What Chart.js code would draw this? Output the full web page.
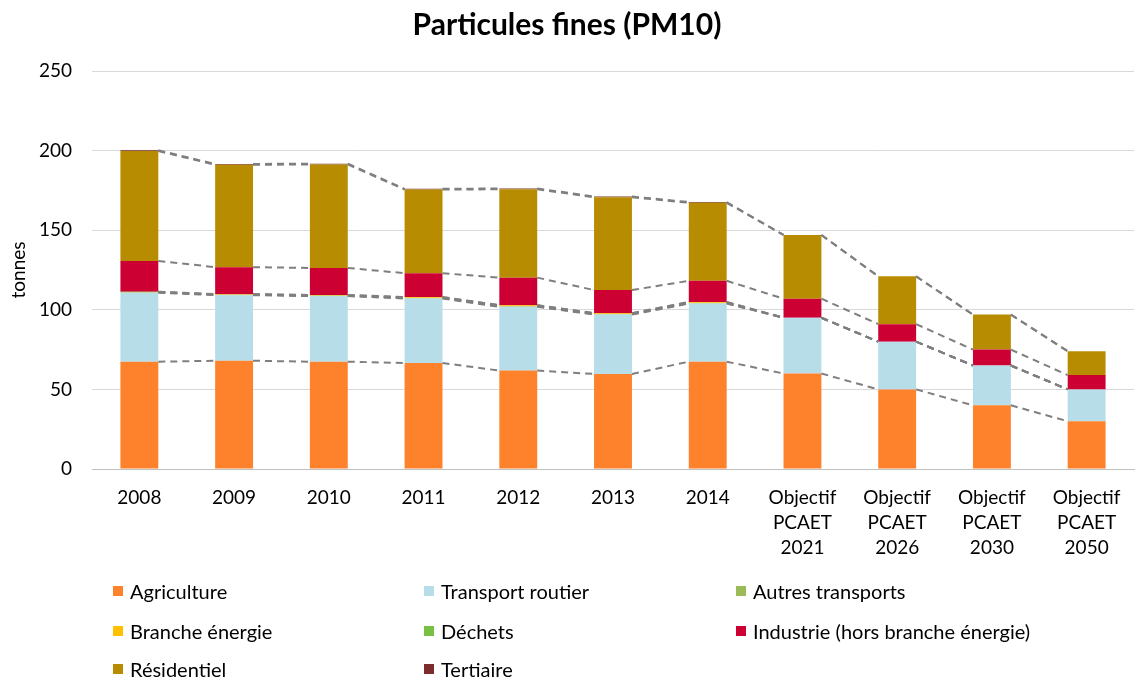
<!DOCTYPE html>
<html>
<head>
<meta charset="utf-8">
<script src="https://cdn.jsdelivr.net/npm/chart.js@4/dist/chart.umd.min.js"></script>
<style>
  html, body { margin: 0; padding: 0; background: #fff; }
  #wrap { position: relative; width: 1140px; height: 678px; }
  #c { position: absolute; left: 0; top: 0; }
  #legend { position: absolute; left: 0; top: 0; width: 1140px; height: 678px; pointer-events: none;
            font-family: Lato, "Open Sans", sans-serif; font-size: 20px; color: #000; }
  .li { position: absolute; display: flex; align-items: center; white-space: nowrap; }
  .sw { width: 10px; height: 10px; margin-right: 7px; }
</style>
</head>
<body>
<div id="wrap">
  <canvas id="c" width="1140" height="678"></canvas>
  <div id="legend"></div>
</div>
<script>
const categories = ['2008', '2009', '2010', '2011', '2012', '2013', '2014',
  ['Objectif', 'PCAET', '2021'], ['Objectif', 'PCAET', '2026'],
  ['Objectif', 'PCAET', '2030'], ['Objectif', 'PCAET', '2050']];

const agriculture = [67.4, 68.0, 67.4, 66.6, 61.8, 59.7, 67.4, 60, 50, 40, 30];
const transportRoutier = [43.3, 41.2, 41.2, 40.5, 40.1, 37.3, 36.5, 35, 30, 25, 20];
const autresTransports = [0.3, 0.3, 0.3, 0.3, 0.3, 0.3, 0.3, 0, 0, 0, 0];
const brancheEnergie = [0.2, 0.2, 0.3, 0.5, 0.6, 0.5, 0.6, 0, 0, 0, 0];
const dechets = [0.1, 0.1, 0.1, 0.1, 0.1, 0.1, 0.1, 0, 0, 0, 0];
const industrie = [19.4, 17.0, 17.0, 15.0, 17.3, 14.5, 13.3, 12, 11, 10, 9];
const residentiel = [69.0, 64.3, 65.0, 52.5, 55.5, 58.3, 49.0, 40, 30, 22, 15];
const tertiaire = [0.5, 0.5, 0.5, 0.5, 0.5, 0.5, 0.5, 0, 0, 0, 0];

const yTicks = [0, 50, 100, 150, 200, 250];

const seriesNames = ['Agriculture', 'Transport routier', 'Autres transports', 'Branche énergie',
  'Déchets', 'Industrie (hors branche énergie)', 'Résidentiel', 'Tertiaire'];
const seriesData = [agriculture, transportRoutier, autresTransports, brancheEnergie,
  dechets, industrie, residentiel, tertiaire];
const seriesColors = ['#FE822C', '#B7DDE8', '#9BBB59', '#FFC000', '#77C043', '#CC0033', '#B88C00', '#7B2C2C'];

const FONT = 'Lato, "Open Sans", sans-serif';

const seriesLines = {
  id: 'seriesLines',
  afterDatasetsDraw(chart) {
    const ctx = chart.ctx;
    ctx.save();
    ctx.strokeStyle = '#7f7f7f';
    ctx.lineWidth = 2;
    ctx.setLineDash([7, 5]);
    chart.data.datasets.forEach((ds, di) => {
      const meta = chart.getDatasetMeta(di);
      for (let i = 0; i < meta.data.length - 1; i++) {
        const a = meta.data[i], b = meta.data[i + 1];
        ctx.beginPath();
        ctx.moveTo(a.x + a.width / 2, a.y);
        ctx.lineTo(b.x - b.width / 2, b.y);
        ctx.stroke();
      }
    });
    ctx.restore();
  }
};

const chart = new Chart(document.getElementById('c'), {
  type: 'bar',
  data: {
    labels: categories,
    datasets: seriesNames.map((n, i) => ({
      label: n,
      data: seriesData[i],
      backgroundColor: seriesColors[i],
      borderWidth: 0,
      barPercentage: 0.4,
      categoryPercentage: 1.0
    }))
  },
  options: {
    responsive: false,
    animation: false,
    layout: { padding: { left: 0, right: 6, top: 0, bottom: 109 } },
    plugins: {
      legend: { display: false },
      tooltip: { enabled: false },
      title: {
        display: true,
        text: 'Particules fines (PM10)',
        color: '#000',
        font: { family: FONT, size: 30, weight: 'bold' },
        padding: { top: 7, bottom: 28 }
      }
    },
    scales: {
      x: {
        stacked: true,
        grid: { display: false },
        border: { display: true, color: '#bfbfbf', width: 1 },
        ticks: { color: '#000', font: { family: FONT, size: 19, lineHeight: 1.3 }, padding: 9, maxRotation: 0, autoSkip: false },
        afterFit(s) { s.height = 100; }
      },
      y: {
        stacked: true,
        min: 0, max: 250,
        afterBuildTicks(s) { s.ticks = yTicks.map(v => ({ value: v })); },
        grid: { color: '#d9d9d9', lineWidth: 1, drawTicks: false },
        border: { display: false },
        ticks: { color: '#000', font: { family: FONT, size: 19 }, padding: 20 },
        title: { display: true, text: 'tonnes', color: '#000', font: { family: FONT, size: 19 }, padding: { top: 7, bottom: 0 } },
        afterFit(s) { s.width = 92; }
      }
    }
  },
  plugins: [seriesLines]
});

// HTML legend (3 columns)
const legend = document.getElementById('legend');
const colX = [113, 424, 736];
const rowY = [591, 631, 669];
seriesNames.forEach((n, i) => {
  const el = document.createElement('div');
  el.className = 'li';
  el.style.left = colX[i % 3] + 'px';
  el.style.top = (rowY[Math.floor(i / 3)] - 12) + 'px';
  el.style.height = '24px';
  const sw = document.createElement('span');
  sw.className = 'sw';
  sw.style.background = seriesColors[i];
  const tx = document.createElement('span');
  tx.textContent = n;
  el.appendChild(sw);
  el.appendChild(tx);
  legend.appendChild(el);
});
</script>
</body>
</html>
